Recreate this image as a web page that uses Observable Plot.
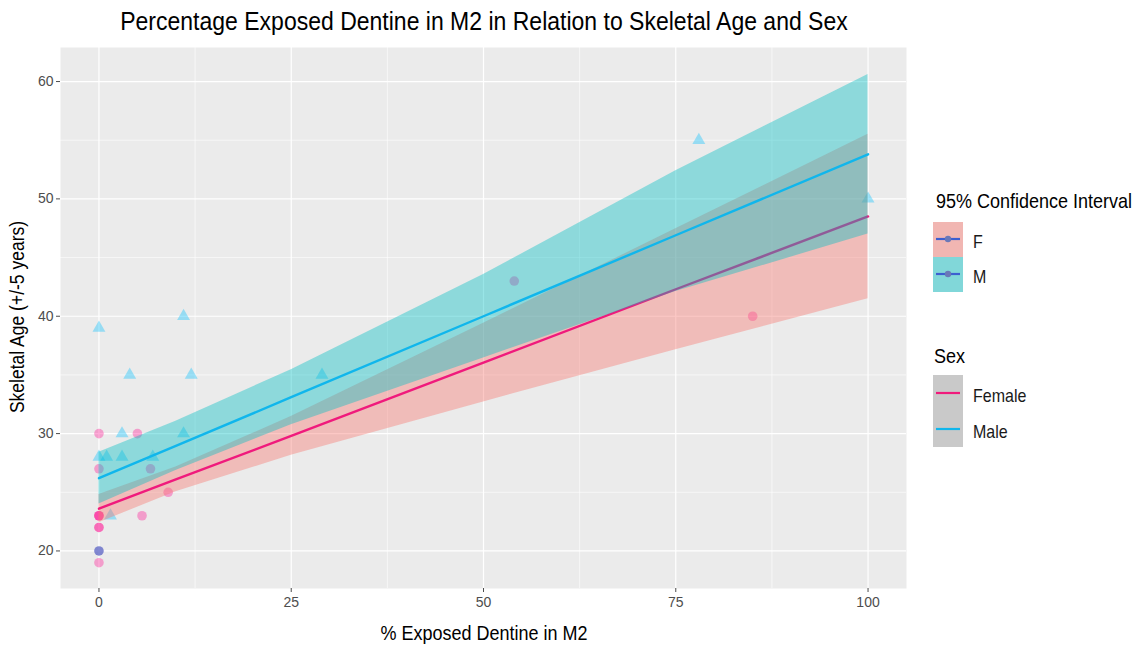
<!DOCTYPE html>
<html>
<head>
<meta charset="utf-8">
<script src="https://cdn.jsdelivr.net/npm/d3@7"></script>
<script src="https://cdn.jsdelivr.net/npm/@observablehq/plot@0.6"></script>
<style>
  body { margin: 0; background: #fff; font-family: "Liberation Sans", Arial, sans-serif; }
  #wrap { position: relative; width: 1146px; height: 649px; overflow: hidden; }
  #wrap svg { position: absolute; left: 0; top: 0; }
  .txt { position: absolute; white-space: nowrap; line-height: 1; }
</style>
</head>
<body>
<div id="wrap"></div>
<script>
// Observations: % exposed dentine (x) against skeletal age (y)
const femaleX = [0, 5, 0, 0, 0, 0, 0, 0, 0, 5.6, 9, 6.7, 54, 85];
const femaleY = [30, 30, 27, 23, 23, 23, 22, 22, 19, 23, 25, 27, 43, 40];
const maleX = [0, 11, 4, 12, 29, 78, 100, 3, 11, 1, 3, 7, 1.5, 0];
const maleY = [39, 40, 35, 35, 35, 55, 50, 30, 30, 28, 28, 28, 23, 28];
// individuals of both sexes recorded at the same value
const tiedX = [0];
const tiedY = [20];

// Linear fits and their 95% confidence bands
const fitX = [0, 10, 25, 50, 75, 100];
const femaleFit = [23.6, 26.1, 29.8, 36.05, 42.3, 48.5];
const femaleLower = [22.4, 25.05, 28.15, 32.7, 37.15, 41.5];
const femaleUpper = [24.8, 27.15, 31.45, 39.4, 47.45, 55.5];
const maleFit = [26.2, 28.95, 33.1, 40.0, 46.9, 53.8];
const maleLower = [24.0, 26.85, 30.75, 36.45, 42.1, 47.0];
const maleUpper = [28.4, 31.05, 35.45, 43.55, 52.4, 60.6];

// Axis ticks and grid
const xTicks = [0, 25, 50, 75, 100];
const xMinor = [12.5, 37.5, 62.5, 87.5];
const yTicks = [20, 30, 40, 50, 60];
const yMinor = [25, 35, 45, 55];

const colors = {
  femaleBand: "#F8766D", maleBand: "#00BFC4",
  femaleLine: "#F01A7C", maleLine: "#10B6EC",
  femalePoint: "#FF1493", malePoint: "#00BFFF", tied: "#5A62C4",
  panel: "#EBEBEB"
};

const femalePts = femaleX.map((x, i) => ({x, y: femaleY[i]}));
const malePts = maleX.map((x, i) => ({x, y: maleY[i]}));
const tiedPts = tiedX.map((x, i) => ({x, y: tiedY[i]}));
const femaleBand = fitX.map((x, i) => ({x, fit: femaleFit[i], lo: femaleLower[i], hi: femaleUpper[i]}));
const maleBand = fitX.map((x, i) => ({x, fit: maleFit[i], lo: maleLower[i], hi: maleUpper[i]}));

const W = 1146, H = 649;
const chart = Plot.plot({
  width: W, height: H,
  marginLeft: 60, marginRight: 240, marginTop: 47, marginBottom: 61,
  x: {domain: [-5, 105]},
  y: {domain: [16.8, 62.9]},
  style: {fontFamily: "'Liberation Sans', Arial, sans-serif", background: "transparent"},
  marks: [
    Plot.frame({fill: colors.panel, stroke: "none"}),
    Plot.ruleX(xMinor, {stroke: "#fff", strokeWidth: 0.6}),
    Plot.ruleY(yMinor, {stroke: "#fff", strokeWidth: 0.6}),
    Plot.ruleX(xTicks, {stroke: "#fff", strokeWidth: 1.2}),
    Plot.ruleY(yTicks, {stroke: "#fff", strokeWidth: 1.2}),
    Plot.axisX({ticks: xTicks, tickSize: 4, tickPadding: 5, fontSize: 14, color: "#4D4D4D", label: null}),
    Plot.axisY({ticks: yTicks, tickSize: 4, tickPadding: 3, fontSize: 14, color: "#4D4D4D", label: null}),
    // points
    Plot.dot(femalePts, {x: "x", y: "y", r: 4.8, fill: colors.femalePoint, fillOpacity: 0.36, stroke: "none"}),
    Plot.dot(malePts, {x: "x", y: "y", r: 4.8, symbol: "triangle", fill: colors.malePoint, fillOpacity: 0.36, stroke: "none"}),
    Plot.dot(tiedPts, {x: "x", y: "y", r: 4.8, fill: colors.tied, fillOpacity: 0.75, stroke: "none"}),
    // female band + fit
    Plot.areaY(femaleBand, {x: "x", y1: "lo", y2: "hi", fill: colors.femaleBand, fillOpacity: 0.4}),
    Plot.line(femaleBand, {x: "x", y: "fit", stroke: colors.femaleLine, strokeWidth: 2.4}),
    // male band + fit
    Plot.areaY(maleBand, {x: "x", y1: "lo", y2: "hi", fill: colors.maleBand, fillOpacity: 0.4}),
    Plot.line(maleBand, {x: "x", y: "fit", stroke: colors.maleLine, strokeWidth: 2.4})
  ]
});

const wrap = document.getElementById("wrap");
wrap.appendChild(chart);

// text helper: place text by its anchor point, slightly tall lettering
function addText(str, x, y, size, opts = {}) {
  const d = document.createElement("div");
  d.className = "txt";
  d.textContent = str;
  d.style.fontSize = size + "px";
  d.style.color = opts.color || "#000";
  d.style.left = x + "px";
  d.style.top = y + "px";
  const tx = opts.anchor === "middle" ? "-50%" : "0";
  if (opts.rotate) {
    d.style.transformOrigin = "center";
    d.style.transform = `translate(-50%, -50%) rotate(${opts.rotate}deg) scaleY(1.12)`;
  } else {
    d.style.transform = `translate(${tx}, -50%) scaleY(1.12)`;
  }
  wrap.appendChild(d);
  return d;
}

addText("Percentage Exposed Dentine in M2 in Relation to Skeletal Age and Sex", 484, 22, 23, {anchor: "middle"});
addText("% Exposed Dentine in M2", 484, 633, 18, {anchor: "middle"});
addText("Skeletal Age (+/-5 years)", 18, 317, 17.5, {rotate: -90});

// legends
const ns = "http://www.w3.org/2000/svg";
const lg = document.createElementNS(ns, "svg");
lg.setAttribute("width", W); lg.setAttribute("height", H);
lg.style.position = "absolute"; lg.style.left = "0"; lg.style.top = "0"; lg.style.pointerEvents = "none";
wrap.appendChild(lg);
function el(tag, attrs) {
  const e = document.createElementNS(ns, tag);
  for (const k in attrs) e.setAttribute(k, attrs[k]);
  lg.appendChild(e);
  return e;
}
const keyX = 933, keyW = 30;
// 95% Confidence Interval
addText("95% Confidence Interval", 936, 201, 18);
const ciKeys = [
  {label: "F", fill: colors.femaleBand, top: 222},
  {label: "M", fill: colors.maleBand, top: 257}
];
ciKeys.forEach(k => {
  el("rect", {x: keyX, y: k.top, width: keyW, height: 35, fill: colors.panel});
  el("rect", {x: keyX, y: k.top, width: keyW, height: 35, fill: k.fill, "fill-opacity": 0.45});
  el("line", {x1: keyX + 3, x2: keyX + keyW - 3, y1: k.top + 17, y2: k.top + 17, stroke: "#3D5FD0", "stroke-width": 2.2});
  el("circle", {cx: keyX + keyW / 2, cy: k.top + 17, r: 3.2, fill: "#6A78B8"});
  addText(k.label, 973, k.top + 20, 16, {color: "#1A1A1A"});
});
// Sex
addText("Sex", 934, 356, 18);
const sexKeys = [
  {label: "Female", stroke: colors.femaleLine, top: 375},
  {label: "Male", stroke: colors.maleLine, top: 411}
];
sexKeys.forEach(k => {
  el("rect", {x: keyX, y: k.top, width: keyW, height: 36, fill: "#C9C9C9"});
  el("line", {x1: keyX + 3, x2: keyX + keyW - 3, y1: k.top + 18, y2: k.top + 18, stroke: k.stroke, "stroke-width": 2.2});
  addText(k.label, 973, k.top + 21, 16, {color: "#1A1A1A"});
});
</script>
</body>
</html>
